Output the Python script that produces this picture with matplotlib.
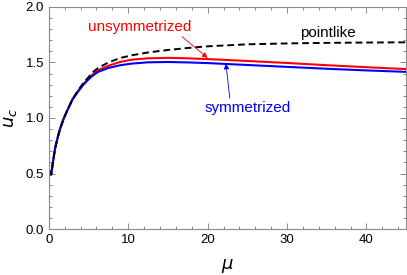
import numpy as np
import matplotlib
matplotlib.use("Agg")
import matplotlib.pyplot as plt
from matplotlib.ticker import MultipleLocator

# values
mu = [0.05, 0.3, 0.55, 0.8, 1.1, 1.4, 1.9, 2.4, 3.0, 3.7, 4.3, 4.9, 5.5, 6.2, 7.5, 9, 10.5, 12.5, 15, 17.5, 20, 25, 30, 35, 40, 45]
pointlike = [0.53, 0.49, 0.62, 0.73, 0.82, 0.90, 1.00, 1.08, 1.17, 1.25, 1.31, 1.36, 1.41, 1.45, 1.50, 1.54, 1.565, 1.59, 1.612, 1.63, 1.645, 1.663, 1.671, 1.676, 1.679, 1.681]
unsym = [0.53, 0.49, 0.62, 0.73, 0.82, 0.90, 1.00, 1.08, 1.17, 1.245, 1.30, 1.35, 1.39, 1.43, 1.47, 1.505, 1.525, 1.537, 1.541, 1.537, 1.53, 1.513, 1.495, 1.475, 1.457, 1.44]
sym = [0.53, 0.49, 0.62, 0.73, 0.82, 0.90, 1.00, 1.08, 1.17, 1.24, 1.295, 1.34, 1.38, 1.415, 1.45, 1.475, 1.49, 1.501, 1.504, 1.5, 1.494, 1.477, 1.46, 1.443, 1.428, 1.415]

plt.rcParams['font.family'] = ['Liberation Sans', 'DejaVu Sans']

fig = plt.figure(figsize=(4.07, 2.75), dpi=100)
ax = fig.add_axes([0.12, 0.167, 0.878, 0.808])

ax.plot(mu, unsym, color='#ff0000', lw=1.5, solid_joinstyle='round')
ax.plot(mu, sym, color='#0000ff', lw=1.5, solid_joinstyle='round')
ax.plot(mu, pointlike, color='black', lw=1.4, dashes=(3.5, 2))

ax.set_xlim(0, 45)
ax.set_ylim(0, 2.0)

ax.xaxis.set_major_locator(MultipleLocator(10))
ax.xaxis.set_minor_locator(MultipleLocator(2))
ax.yaxis.set_major_locator(MultipleLocator(0.5))
ax.yaxis.set_minor_locator(MultipleLocator(0.1))
ax.yaxis.set_major_formatter(matplotlib.ticker.FormatStrFormatter('%.1f'))

frame = '#8a8a8a'
for s in ax.spines.values():
    s.set_color(frame)
    s.set_linewidth(0.8)
ax.tick_params(which='both', direction='in', top=True, right=True, color=frame, width=0.7, labelsize=9.5)
ax.tick_params(which='major', length=4)
ax.tick_params(which='minor', length=2)

ax.set_xlabel(r'$\mu$', fontsize=13, labelpad=8)
ax.set_ylabel(r'$u_c$', fontsize=13, labelpad=5)

ax.annotate('unsymmetrized', xy=(20.0, 1.54), xytext=(11.4, 1.82), color='#ff0000', fontsize=11,
            ha='center', va='center',
            arrowprops=dict(arrowstyle='-|>', color='#ff0000', lw=0.6, mutation_scale=8, shrinkA=0, shrinkB=0,
                            relpos=(0.88, 0.0)))
ax.annotate('symmetrized', xy=(22.3, 1.49), xytext=(25.0, 1.09), color='#0000ff', fontsize=11,
            ha='center', va='center',
            arrowprops=dict(arrowstyle='-|>', color='#0000ff', lw=0.6, mutation_scale=8, shrinkA=0, shrinkB=0,
                            relpos=(0.3, 1.0)))
ax.text(35.1, 1.765, 'pointlike', color='black', fontsize=11, ha='center', va='center')

fig.savefig('out.png', dpi=100)
